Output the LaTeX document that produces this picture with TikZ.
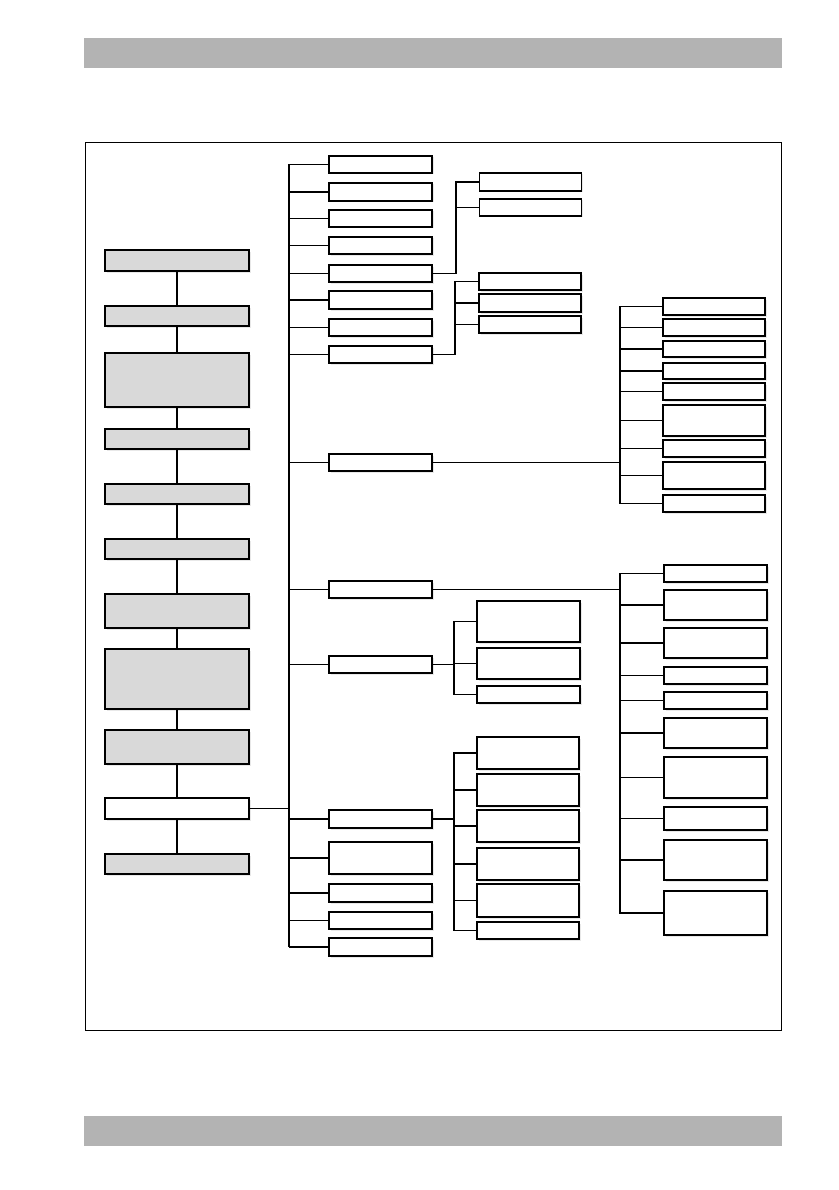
\documentclass[tikz,border=0pt]{standalone}
\usetikzlibrary{shadows}
\definecolor{boxgray}{RGB}{217,217,217}
\definecolor{bandgray}{RGB}{179,179,179}

\begin{document}
\begin{tikzpicture}[x=1pt,y=-1pt,
  box/.style={draw, line width=1.4pt, fill=white, inner sep=0pt, outer sep=0pt,
    minimum height=17,
    drop shadow={shadow xshift=1.5pt, shadow yshift=-1.5pt, opacity=.18}},
  lbox/.style={box, fill=boxgray, minimum width=144},
  cbox/.style={box, minimum width=103},
  kbox/.style={box, minimum width=102},
  link/.style={line width=1.2pt},
  trunkline/.style={line width=1.7pt}]
\useasboundingbox (0,0) rectangle (838,1190);

% page bands and frame
\fill[bandgray] (84,38) rectangle (782,68);
\fill[bandgray] (84,1116) rectangle (782,1146);
\draw[line width=0.9pt] (85,142) rectangle (781,1030);

% left column
\node[lbox, minimum height=21] (l1) at (177,260.5) {};
\node[lbox, minimum height=20] (l2) at (177,316) {};
\node[lbox, minimum height=54] (l3) at (177,380) {};
\node[lbox, minimum height=20] (l4) at (177,439) {};
\node[lbox, minimum height=20] (l5) at (177,494) {};
\node[lbox, minimum height=20] (l6) at (177,549) {};
\node[lbox, minimum height=34] (l7) at (177,611) {};
\node[lbox, minimum height=60] (l8) at (177,679) {};
\node[lbox, minimum height=34] (l9) at (177,747) {};
\node[lbox, fill=white, minimum height=21] (l10) at (177,808.5) {};
\node[lbox, minimum height=20] (l11) at (177,864) {};

% second column
\node[cbox] (c1) at (380.5,164.5) {};
\node[cbox, minimum height=18] (c2) at (380.5,192) {};
\node[cbox] (c3) at (380.5,218.5) {};
\node[cbox] (c4) at (380.5,245.5) {};
\node[cbox] (c5) at (380.5,273.5) {};
\node[cbox, minimum height=18] (c6) at (380.5,300) {};
\node[cbox] (c7) at (380.5,327.5) {};
\node[cbox] (c8) at (380.5,354.5) {};
\node[cbox] (c9) at (380.5,462.5) {};
\node[cbox] (c10) at (380.5,589.5) {};
\node[cbox] (c11) at (380.5,664.5) {};
\node[cbox, minimum height=18] (c12) at (380.5,819) {};
\node[cbox, minimum height=32] (c13) at (380.5,858) {};
\node[cbox, minimum height=18] (c14) at (380.5,893) {};
\node[cbox] (c15) at (380.5,920.5) {};
\node[cbox, minimum height=18] (c16) at (380.5,947) {};

% third column
\node[kbox, minimum height=18] (e1) at (530.5,182) {};
\node[kbox] (e2) at (530.5,207.5) {};
\node[kbox] (h1) at (530,281.5) {};
\node[kbox, minimum height=18] (h2) at (530,303) {};
\node[kbox] (h3) at (530,324.5) {};
\node[cbox, minimum height=41] (k1) at (528.5,621.5) {};
\node[cbox, minimum height=31] (k2) at (528.5,663.5) {};
\node[cbox] (k3) at (528.5,694.5) {};
\node[kbox, minimum height=32] (m1) at (528,753) {};
\node[kbox, minimum height=32] (m2) at (528,790) {};
\node[kbox, minimum height=32] (m3) at (528,826) {};
\node[kbox, minimum height=32] (m4) at (528,864) {};
\node[kbox, minimum height=33] (m5) at (528,900.5) {};
\node[kbox] (m6) at (528,930.5) {};

% right column
\node[kbox] (r1) at (714,306.5) {};
\node[kbox] (r2) at (714,327.5) {};
\node[kbox, minimum height=16] (r3) at (714,349) {};
\node[kbox, minimum height=16] (r4) at (714,371) {};
\node[kbox] (r5) at (714,391.5) {};
\node[kbox, minimum height=31] (r6) at (714,420.5) {};
\node[kbox] (r7) at (714,448.5) {};
\node[kbox, minimum height=27] (r8) at (714,475.5) {};
\node[kbox] (r9) at (714,503.5) {};
\node[cbox] (s1) at (715.5,573.5) {};
\node[cbox, minimum height=30] (s2) at (715.5,605) {};
\node[cbox, minimum height=30] (s3) at (715.5,643) {};
\node[cbox] (s4) at (715.5,675.5) {};
\node[cbox] (s5) at (715.5,700.5) {};
\node[cbox, minimum height=30] (s6) at (715.5,733) {};
\node[cbox, minimum height=41] (s7) at (715.5,777.5) {};
\node[cbox, minimum height=23] (s8) at (715.5,818.5) {};
\node[cbox, minimum height=40] (s9) at (715.5,860) {};
\node[cbox, minimum height=44] (s10) at (715.5,913) {};

% connectors
\foreach \a/\b in {l1/l2,l2/l3,l3/l4,l4/l5,l5/l6,l6/l7,l7/l8,l8/l9,l9/l10,l10/l11}
  \draw[link] (\a) -- (\b);
\coordinate (trunk) at (289,164.5);
\draw[trunkline] (c1.west -| trunk) -- (c16.west -| trunk);
\foreach \n in {1,...,16}
  \draw[link] (c\n.west) -- (c\n.west -| trunk);
\draw[trunkline] (l10.east) -- (l10.east -| trunk);

\draw[link] (c5.east) -- ++(24,0) coordinate (f5);
\foreach \n in {1,2} \draw[link] (f5) |- (e\n.west);
\draw[link] (c8.east) -- ++(23,0) coordinate (f8);
\foreach \n in {1,2,3} \draw[link] (f8) |- (h\n.west);
\draw[link] (c9.east) -- ++(188,0) coordinate (f9);
\foreach \n in {1,...,9} \draw[link] (f9) |- (r\n.west);
\draw[link] (c10.east) -- ++(188,0) coordinate (f10);
\foreach \n in {1,...,10} \draw[link] (f10) |- (s\n.west);
\draw[link] (c11.east) -- ++(22,0) coordinate (f11);
\foreach \n in {1,2,3} \draw[link] (f11) |- (k\n.west);
\draw[link] (c12.east) -- ++(22,0) coordinate (f12);
\foreach \n in {1,...,6} \draw[link] (f12) |- (m\n.west);
\end{tikzpicture}
\end{document}
